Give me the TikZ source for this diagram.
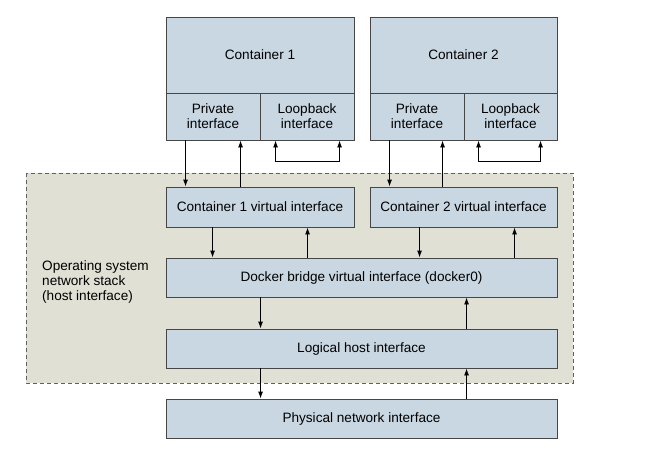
\documentclass[tikz,border=0pt]{standalone}
\usepackage{fontspec}
\setmainfont{Liberation Sans}
\usetikzlibrary{arrows.meta}
\definecolor{boxblue}{RGB}{201,215,226}
\definecolor{stackbg}{RGB}{224,224,213}
\definecolor{edgegray}{RGB}{70,70,70}

\begin{document}
\begin{tikzpicture}
[x=1pt, y=-1pt, font=\fontsize{13.6}{15}\selectfont,
  netbox/.style={draw=edgegray, fill=boxblue, line width=0.9pt, inner sep=0pt,
    align=center, minimum height=#1},
  netbox/.default=40pt,
  arr/.style={-{Latex[length=7pt,width=5pt]}, line width=0.9pt},
  loop/.style={{Latex[length=7pt,width=5pt]}-{Latex[length=7pt,width=5pt]}, line width=0.9pt}]
  \useasboundingbox (0,0) rectangle (665,455);
  % host network stack
  \draw[gray!75!black, fill=stackbg, dash pattern=on 4pt off 3pt, line width=1pt]
    (26,173) rectangle (573,383);
  \node[anchor=west, align=left, inner sep=0pt] (stacklabel) at (42,282)
    {Operating system\\network stack\\(host interface)};
  % containers
  \node[netbox=76pt, minimum width=188pt] (c1) at (260,55) {Container 1};
  \node[netbox=47pt, minimum width=94pt] (c1priv) at (213,116.5) {Private\\interface};
  \node[netbox=47pt, minimum width=94pt] (c1loop) at (307,116.5) {Loopback\\interface};
  \node[netbox=76pt, minimum width=187pt] (c2) at (463.5,55) {Container 2};
  \node[netbox=47pt, minimum width=94pt] (c2priv) at (417,116.5) {Private\\interface};
  \node[netbox=47pt, minimum width=93pt] (c2loop) at (510.5,116.5) {Loopback\\interface};
  % virtual interfaces
  \node[netbox, minimum width=188pt] (c1virt) at (260,207) {Container 1 virtual interface};
  \node[netbox, minimum width=187pt] (c2virt) at (463.5,207) {Container 2 virtual interface};
  \node[netbox=39pt, minimum width=391pt] (bridge) at (361.5,277.5)
    {Docker bridge virtual interface (docker0)};
  \node[netbox=39pt, minimum width=391pt] (logical) at (361.5,348.5) {Logical host interface};
  \node[netbox=39pt, minimum width=391pt] (phys) at (361.5,418.5) {Physical network interface};
  % container <-> virtual
  \draw[arr] ([xshift=20pt]c1priv.south west) -- ([xshift=20pt]c1priv.south west |- c1virt.north);
  \draw[arr] ([xshift=75pt]c1virt.north west) -- ([xshift=75pt]c1virt.north west |- c1priv.south);
  \draw[arr] ([xshift=20pt]c2priv.south west) -- ([xshift=20pt]c2priv.south west |- c2virt.north);
  \draw[arr] ([xshift=73pt]c2virt.north west) -- ([xshift=73pt]c2virt.north west |- c2priv.south);
  % loopback
  \draw[loop] ([xshift=16pt]c1loop.south west) -- ++(0,21) -| ([xshift=80pt]c1loop.south west);
  \draw[loop] ([xshift=15pt]c2loop.south west) -- ++(0,21) -| ([xshift=77pt]c2loop.south west);
  % virtual <-> bridge
  \draw[arr] ([xshift=47pt]c1virt.south west) -- ([xshift=47pt]c1virt.south west |- bridge.north);
  \draw[arr] ([xshift=142pt]bridge.north west) -- ([xshift=142pt]bridge.north west |- c1virt.south);
  \draw[arr] ([xshift=50pt]c2virt.south west) -- ([xshift=50pt]c2virt.south west |- bridge.north);
  \draw[arr] ([xshift=349pt]bridge.north west) -- ([xshift=349pt]bridge.north west |- c2virt.south);
  % bridge <-> logical <-> physical
  \draw[arr] ([xshift=95pt]bridge.south west) -- ([xshift=95pt]bridge.south west |- logical.north);
  \draw[arr] ([xshift=301pt]logical.north west) -- ([xshift=301pt]logical.north west |- bridge.south);
  \draw[arr] ([xshift=95pt]logical.south west) -- ([xshift=95pt]logical.south west |- phys.north);
  \draw[arr] ([xshift=301pt]phys.north west) -- ([xshift=301pt]phys.north west |- logical.south);
\end{tikzpicture}
\end{document}
